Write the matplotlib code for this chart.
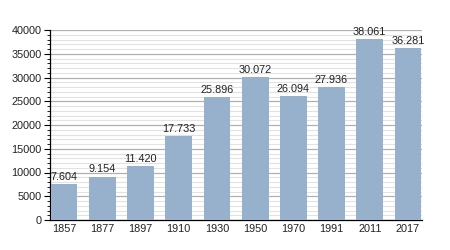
import numpy as np
import matplotlib

matplotlib.use("Agg")
import matplotlib.pyplot as plt
from matplotlib.ticker import MultipleLocator

years = ["1857", "1877", "1897", "1910", "1930", "1950", "1970", "1991", "2011", "2017"]
population = [7604, 9154, 11420, 17733, 25896, 30072, 26094, 27936, 38061, 36281]
labels = ["7.604", "9.154", "11.420", "17.733", "25.896", "30.072", "26.094", "27.936", "38.061", "36.281"]

plt.rcParams["font.family"] = ["Liberation Sans", "DejaVu Sans"]

fig = plt.figure(figsize=(4.5, 2.5), dpi=100)
ax = fig.add_axes([0.111, 0.12, 0.827, 0.76])

ind = np.arange(len(years))
ax.bar(ind, population, width=0.7, color="#97b1cc", zorder=3)
for i, (v, s) in enumerate(zip(population, labels)):
    ax.text(i, v + 450, s, ha="center", va="bottom", fontsize=7.8, color="#222222", zorder=4)

ax.set_xlim(-0.37, len(years) - 0.63)
ax.set_ylim(0, 40000)
ax.set_xticks(ind)
ax.set_xticklabels(years)
ax.yaxis.set_major_locator(MultipleLocator(5000))
ax.yaxis.set_minor_locator(MultipleLocator(1000))
ax.grid(axis="y", which="major", color="#b0b0b0", linewidth=0.9, zorder=0)
ax.grid(axis="y", which="minor", color="#e2e2e2", linewidth=0.8, zorder=0)

ax.tick_params(axis="y", which="major", length=4, width=0.8, labelsize=7.8, pad=2, labelcolor="#222222")
ax.tick_params(axis="y", which="minor", length=2, width=0.6)
ax.tick_params(axis="x", length=0, labelsize=7.8, pad=3, labelcolor="#222222")
for side in ["top", "right"]:
    ax.spines[side].set_visible(False)
ax.spines["left"].set_linewidth(0.9)
ax.spines["bottom"].set_linewidth(0.9)

fig.savefig("out.png", dpi=100)
